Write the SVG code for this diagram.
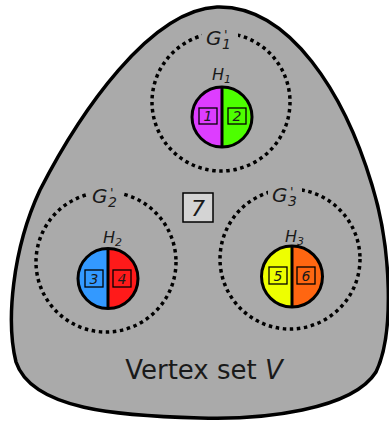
<svg xmlns="http://www.w3.org/2000/svg" width="389" height="422" viewBox="0 0 389 422">
<style>
.lbl{font-family:"DejaVu Sans",sans-serif;font-style:italic;fill:#1a1a1a}
.dot{fill:none;stroke:#000;stroke-width:3.5;stroke-dasharray:3.5 3.6}
.half{stroke:none}
.ring{fill:none;stroke:#000;stroke-width:3}
.box{fill:none;stroke:#000;stroke-width:1.3}
.num{font-family:"DejaVu Sans",sans-serif;font-style:italic;font-size:14px;fill:#1a1a1a;text-anchor:middle}
.mask{fill:#aaaaaa}
</style>
<g id="vertex-set">
<path d="M 217 7 C 290 5, 345 95, 372 185 C 392 250, 394 335, 376 372 C 352 410, 262 420, 200 418 C 120 416, 32 410, 16 362 C 6 322, 12 250, 40 190 C 80 112, 150 10, 217 7 Z" fill="#aaaaaa" stroke="#000" stroke-width="3.5"/>
<text x="204" y="379" font-family="DejaVu Sans, sans-serif" font-size="26" fill="#1a1a1a" text-anchor="middle">Vertex set <tspan font-style="italic">V</tspan></text>
</g>
<g id="G1">
<circle class="dot" cx="221" cy="102" r="69"/>
<rect class="mask" x="202" y="27" width="36" height="24"/>
<text class="lbl" x="206" y="45" font-size="20">G<tspan x="222" y="49" font-size="14">1</tspan><tspan x="224" y="39" font-size="13">'</tspan></text>
</g>
<g id="G2">
<circle class="dot" cx="106" cy="262" r="70"/>
<rect class="mask" x="88" y="185" width="34" height="24"/>
<text class="lbl" x="92" y="203" font-size="20">G<tspan x="108" y="207" font-size="14">2</tspan><tspan x="110" y="197" font-size="13">'</tspan></text>
</g>
<g id="G3">
<circle class="dot" cx="290" cy="259" r="70"/>
<rect class="mask" x="268" y="184" width="34" height="24"/>
<text class="lbl" x="272" y="202" font-size="20">G<tspan x="288" y="206" font-size="14">3</tspan><tspan x="290" y="196" font-size="13">'</tspan></text>
</g>
<g id="H1">
<text class="lbl" x="212" y="80" font-size="16">H<tspan font-size="11" dy="3">1</tspan></text>
<path class="half" d="M 222 87 A 30 30 0 0 0 222 147 Z" fill="#dd3dff"/>
<path class="half" d="M 222 87 A 30 30 0 0 1 222 147 Z" fill="#4dff00"/>
<circle class="ring" cx="222" cy="117" r="30"/>
<line x1="222" y1="87" x2="222" y2="147" stroke="#000" stroke-width="3"/>
</g>
<g id="v1"><rect class="box" x="199" y="108" width="18" height="16"/><text class="num" x="208" y="121">1</text></g>
<g id="v2"><rect class="box" x="228" y="108" width="18" height="16"/><text class="num" x="237" y="121">2</text></g>
<g id="H2">
<text class="lbl" x="103" y="243" font-size="16">H<tspan font-size="11" dy="3">2</tspan></text>
<path class="half" d="M 108 248.5 A 30 30 0 0 0 108 308.5 Z" fill="#3399ff"/>
<path class="half" d="M 108 248.5 A 30 30 0 0 1 108 308.5 Z" fill="#ff1a1a"/>
<circle class="ring" cx="108" cy="278.5" r="30"/>
<line x1="108" y1="248.5" x2="108" y2="308.5" stroke="#000" stroke-width="3"/>
</g>
<g id="v3"><rect class="box" x="85" y="270" width="18" height="17"/><text class="num" x="94" y="284">3</text></g>
<g id="v4"><rect class="box" x="113" y="270" width="18" height="17"/><text class="num" x="122" y="284">4</text></g>
<g id="H3">
<text class="lbl" x="285" y="242" font-size="16">H<tspan font-size="11" dy="3">3</tspan></text>
<path class="half" d="M 292 246 A 30.5 30.5 0 0 0 292 307 Z" fill="#eeff00"/>
<path class="half" d="M 292 246 A 30.5 30.5 0 0 1 292 307 Z" fill="#ff6611"/>
<circle class="ring" cx="292" cy="276.5" r="30.5"/>
<line x1="292" y1="246" x2="292" y2="307" stroke="#000" stroke-width="3"/>
</g>
<g id="v5"><rect class="box" x="269" y="267" width="18" height="17"/><text class="num" x="278" y="281">5</text></g>
<g id="v6"><rect class="box" x="297" y="267" width="18" height="17"/><text class="num" x="306" y="281">6</text></g>
<g id="v7"><rect x="183" y="193" width="30" height="29" fill="#d4d4d4" stroke="#000" stroke-width="1.5"/><text x="198" y="216" font-family="DejaVu Sans, sans-serif" font-style="italic" font-size="22" fill="#1a1a1a" text-anchor="middle">7</text></g>
<g id="connectors"></g>
</svg>
